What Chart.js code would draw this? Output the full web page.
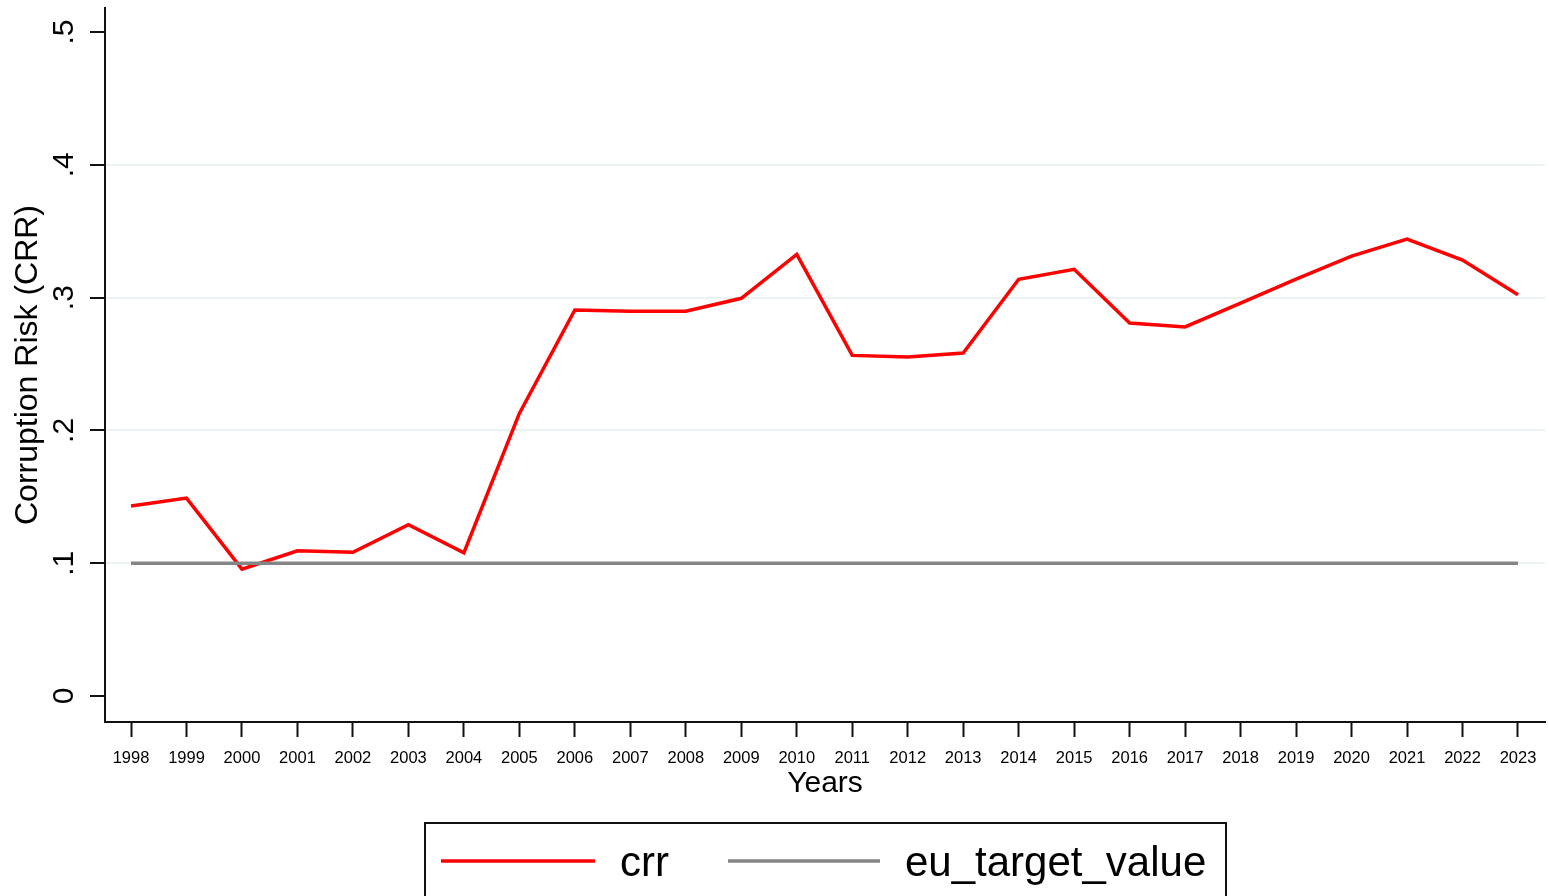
<!DOCTYPE html>
<html>
<head>
<meta charset="utf-8">
<script src="https://cdn.jsdelivr.net/npm/chart.js@4/dist/chart.umd.min.js"></script>
<style>
  body { margin: 0; background: #fff; }
  canvas { display: block; }
</style>
</head>
<body>
<canvas id="grafico" width="1549" height="896"></canvas>
<script>
// Corruption risk (CRR) per year against the EU target value

const years = [1998, 1999, 2000, 2001, 2002, 2003, 2004, 2005, 2006, 2007, 2008, 2009, 2010,
  2011, 2012, 2013, 2014, 2015, 2016, 2017, 2018, 2019, 2020, 2021, 2022, 2023];
const crr = [0.143, 0.149, 0.0955, 0.1094, 0.1082, 0.129, 0.1079, 0.2128, 0.2907, 0.2898, 0.2898, 0.2995, 0.3326,
  0.2565, 0.2553, 0.2583, 0.3138, 0.3213, 0.2809, 0.2779, 0.2959, 0.314, 0.3313, 0.3441, 0.3283, 0.3022];
const euTarget = years.map(() => 0.1);
const yTicks = [0, 0.1, 0.2, 0.3, 0.4, 0.5];
const gridValues = [0.1, 0.2, 0.3, 0.4];
const yTickLabels = ["0", ".1", ".2", ".3", ".4", ".5"];
const legendLabels = ["crr", "eu_target_value"];

const FONT = "'Liberation Sans', Arial, sans-serif";

// legend box like Stata draws it, cut by the bottom edge
const legendStata = {
  id: 'legendStata',
  afterDraw(chart) {
    const ctx = chart.ctx;
    ctx.save();
    ctx.strokeStyle = '#111';
    ctx.lineWidth = 2;
    ctx.strokeRect(425, 823, 801, 90);
    const items = [
      { x0: 441, x1: 595, tx: 620, ds: chart.data.datasets[0] },
      { x0: 728, x1: 880, tx: 905, ds: chart.data.datasets[1] }
    ];
    ctx.font = "42px " + FONT;
    ctx.textBaseline = 'middle';
    items.forEach((it, i) => {
      ctx.strokeStyle = it.ds.borderColor;
      ctx.lineWidth = 3.5;
      ctx.beginPath();
      ctx.moveTo(it.x0, 861);
      ctx.lineTo(it.x1, 861);
      ctx.stroke();
      ctx.fillStyle = '#000';
      ctx.fillText(legendLabels[i], it.tx, 864);
    });
    ctx.restore();
  }
};

const ctx = document.getElementById('grafico').getContext('2d');
const chart = new Chart(ctx, {
  type: 'line',
  data: {
    labels: years,
    datasets: [
      { label: legendLabels[0], data: years.map((y, i) => ({ x: y, y: crr[i] })), borderColor: '#ff0000',
        borderWidth: 3.5, pointRadius: 0, tension: 0, fill: false, order: 1 },
      { label: legendLabels[1], data: years.map((y, i) => ({ x: y, y: euTarget[i] })), borderColor: '#858585',
        borderWidth: 3.5, pointRadius: 0, tension: 0, fill: false, order: 0 }
    ]
  },
  options: {
    responsive: false,
    animation: false,
    layout: { padding: { top: 8, right: 4, bottom: 94, left: 0 } },
    plugins: { legend: { display: false }, tooltip: { enabled: false } },
    scales: {
      x: {
        type: 'linear',
        min: 1997.531,
        max: 2023.487,
        afterBuildTicks: s => { s.ticks = years.map(v => ({ value: v })); },
        afterFit: s => { s.height = 80; s.paddingLeft = 0; s.paddingRight = 0; },
        ticks: {
          autoSkip: false, maxRotation: 0, minRotation: 0, padding: 12,
          color: '#000', font: { family: FONT, size: 16.5 },
          callback: v => String(v)
        },
        grid: { drawOnChartArea: false, drawTicks: true, tickLength: 15, tickColor: '#111', tickWidth: 2 },
        border: { display: true, color: '#111', width: 2 },
        title: { display: true, text: 'Years', color: '#000', font: { family: FONT, size: 30 }, padding: { top: 0, bottom: 0 } }
      },
      y: {
        min: -0.01958,
        max: 0.5181,
        afterBuildTicks: s => { s.ticks = yTicks.map(v => ({ value: v })); },
        afterFit: s => { s.width = 105; s.paddingTop = 0; s.paddingBottom = 0; },
        ticks: {
          minRotation: 90, maxRotation: 90, crossAlign: 'center', padding: 13,
          color: '#000', font: { family: FONT, size: 30 },
          callback: (v, i) => yTickLabels[i]
        },
        grid: {
          drawTicks: true, tickLength: 15, tickColor: '#111', tickWidth: 2, lineWidth: 2,
          color: c => (c.tick && gridValues.includes(Math.round(c.tick.value * 10) / 10)) ? '#eaf2f3' : 'rgba(0,0,0,0)'
        },
        border: { display: true, color: '#111', width: 2 },
        title: { display: true, text: 'Corruption Risk (CRR)', color: '#000', font: { family: FONT, size: 32 }, padding: { top: 9, bottom: 0 } }
      }
    }
  },
  plugins: [legendStata]
});
</script>
</body>
</html>
